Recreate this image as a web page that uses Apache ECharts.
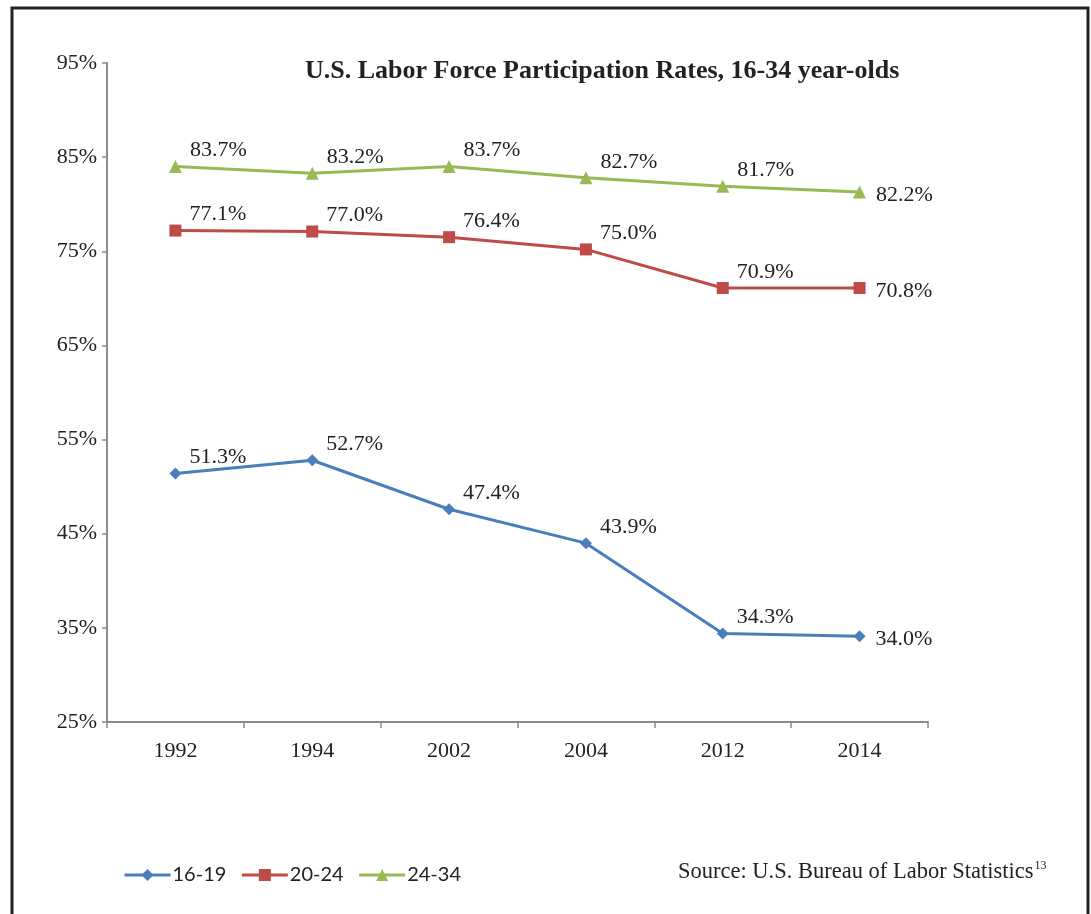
<!DOCTYPE html>
<html>
<head>
<meta charset="utf-8">
<script src="https://cdn.jsdelivr.net/npm/echarts@6/dist/echarts.min.js"></script>
<style>
html,body{margin:0;padding:0;background:#fff;}
#chart{width:1091px;height:914px;}
</style>
</head>
<body>
<div id="chart"></div>
<script>
// Data
const years = ['1992', '1994', '2002', '2004', '2012', '2014'];
const seriesNames = ['16-19', '20-24', '24-34'];
const values1619 = [51.4, 52.8, 47.6, 44.0, 34.4, 34.1];
const values2024 = [77.2, 77.1, 76.5, 75.2, 71.1, 71.1];
const values2434 = [84.0, 83.3, 84.0, 82.8, 81.9, 81.3];
const labels1619 = ['51.3%', '52.7%', '47.4%', '43.9%', '34.3%', '34.0%'];
const labels2024 = ['77.1%', '77.0%', '76.4%', '75.0%', '70.9%', '70.8%'];
const labels2434 = ['83.7%', '83.2%', '83.7%', '82.7%', '81.7%', '82.2%'];
const yTicks = [25, 35, 45, 55, 65, 75, 85, 95];

const serif = '"Liberation Serif", "DejaVu Serif", serif';
const colors = ['#4a7ebb', '#be4b48', '#98b954'];
const symbols = ['diamond', 'rect', 'triangle'];
const symbolSizes = [12, 12, 13];

function buildData(vals, labs) {
  return vals.map((v, i) => ({
    value: v,
    label: {
      formatter: labs[i],
      offset: i === vals.length - 1 ? [4, 3] : [2, -16]
    }
  }));
}

const allVals = [values1619, values2024, values2434];
const allLabs = [labels1619, labels2024, labels2434];

const chart = echarts.init(document.getElementById('chart'), null, {renderer: 'canvas'});
chart.setOption({
  animation: false,
  backgroundColor: '#fff',
  title: {
    text: 'U.S. Labor Force Participation Rates, 16-34 year-olds',
    left: 300,
    top: 53,
    textStyle: {fontFamily: serif, fontWeight: 'bold', fontSize: 26, color: '#222'}
  },
  grid: {left: 107, right: 163, top: 63, bottom: 192, containLabel: false},
  legend: {
    left: 118,
    top: 860,
    itemWidth: 46,
    itemHeight: 15,
    itemGap: 14,
    data: seriesNames,
    lineStyle: {width: 3},
    textStyle: {fontFamily: 'Lato, "Open Sans", sans-serif', fontSize: 20, color: '#222', padding: [0, 0, 0, -3]}
  },
  xAxis: {
    type: 'category',
    data: years,
    boundaryGap: true,
    axisLine: {lineStyle: {color: '#8c8c8c', width: 2}},
    axisTick: {show: true, length: 6, lineStyle: {color: '#8c8c8c', width: 1.5}},
    axisLabel: {fontFamily: serif, fontSize: 22, color: '#222', margin: 18},
    splitLine: {show: false}
  },
  yAxis: {
    type: 'value',
    min: yTicks[0],
    max: yTicks[yTicks.length - 1],
    interval: 10,
    axisLine: {show: true, lineStyle: {color: '#8c8c8c', width: 2}},
    axisTick: {show: true, length: 5, lineStyle: {color: '#8c8c8c', width: 1.5}},
    axisLabel: {fontFamily: serif, fontSize: 22, color: '#222', margin: 10, formatter: v => v + '%'},
    splitLine: {show: false}
  },
  series: seriesNames.map((name, k) => ({
    name: name,
    type: 'line',
    data: buildData(allVals[k], allLabs[k]),
    symbol: symbols[k],
    symbolSize: symbolSizes[k],
    showAllSymbol: true,
    itemStyle: {color: colors[k]},
    lineStyle: {color: colors[k], width: 3},
    label: {
      show: true,
      position: 'right',
      distance: 6,
      fontFamily: serif,
      fontSize: 22,
      color: '#222'
    }
  })),
  graphic: [
    {
      type: 'rect',
      shape: {x: 12, y: 8, width: 1076, height: 930},
      style: {fill: null, stroke: '#222', lineWidth: 3},
      silent: true
    },
    {
      type: 'text',
      left: 678,
      top: 860,
      style: {
        text: '{a|Source: U.S. Bureau of Labor Statistics}{s|13}',
        rich: {
          a: {fontFamily: serif, fontSize: 22.5, fill: '#222'},
          s: {fontFamily: serif, fontSize: 12, fill: '#222', verticalAlign: 'top', padding: [0, 0, 12, 1]}
        }
      }
    }
  ]
});
</script>
</body>
</html>
